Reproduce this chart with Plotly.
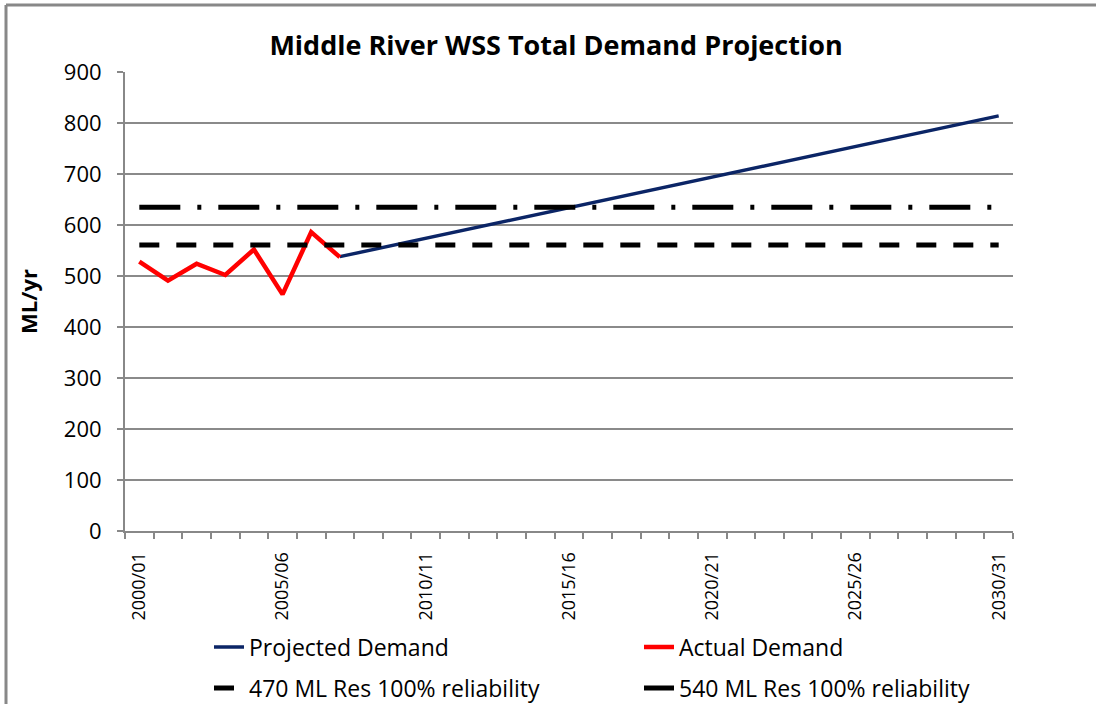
import plotly.graph_objects as go

years = [f"{y}/{str(y + 1)[-2:]}" for y in range(2000, 2031)]
tick_labels = ["2000/01", "2005/06", "2010/11", "2015/16", "2020/21", "2025/26", "2030/31"]

actual_years = years[0:8]
actual_demand = [528, 491, 524, 502, 552, 464, 586, 537]

projected_years = years[7:]
projected_demand = [538, 550, 562, 574, 586, 598, 610, 622, 634, 646, 658, 670,
                    682, 694, 706, 718, 730, 742, 754, 766, 778, 790, 802, 814]

res470_level = 561
res540_level = 635
res470 = [res470_level for _ in years]
res540 = [res540_level for _ in years]

FONT = "Open Sans"
fig = go.Figure()
fig.add_trace(go.Scatter(x=projected_years, y=projected_demand, mode="lines",
                         name="Projected Demand", legend="legend",
                         line=dict(color="#0b2566", width=3.5)))
fig.add_trace(go.Scatter(x=actual_years, y=actual_demand, mode="lines",
                         name="Actual Demand", legend="legend",
                         line=dict(color="#ff0000", width=4.5)))
fig.add_trace(go.Scatter(x=years, y=res470, mode="lines",
                         name="470 ML Res 100% reliability", legend="legend2",
                         line=dict(color="black", width=5, dash="20px,17px")))
fig.add_trace(go.Scatter(x=years, y=res540, mode="lines",
                         name="540 ML Res 100% reliability", legend="legend2",
                         line=dict(color="black", width=5, dash="41px,17px,4px,17px")))

L, R, T, B = 125, 83, 72, 173
W, H = 1096, 704
pw, ph = W - L - R, H - T - B

def px(x):
    return (x - L) / pw

def py(y):
    return (H - B - y) / ph

legend_common = dict(orientation="h", xanchor="left", yanchor="middle",
                     entrywidth=385, entrywidthmode="pixels",
                     font=dict(size=23, family=FONT), bgcolor="rgba(0,0,0,0)")

fig.update_layout(
    template="none",
    width=W, height=H,
    margin=dict(l=L, r=R, t=T, b=B, autoexpand=False),
    paper_bgcolor="white", plot_bgcolor="white",
    font=dict(family=FONT, color="black"),
    title=dict(text="<b>Middle River WSS Total Demand Projection</b>",
               x=556 / W, xanchor="center", y=1 - 46 / H, yanchor="middle",
               font=dict(size=27, family=FONT)),
    showlegend=True,
    legend=dict(x=px(209), y=py(647), **legend_common),
    legend2=dict(x=px(209), y=py(688), **legend_common),
    xaxis=dict(type="category", categoryorder="array", categoryarray=years,
               tickmode="array", tickvals=years,
               ticktext=[y if y in tick_labels else "" for y in years],
               tickson="boundaries", ticks="outside", ticklen=6, tickcolor="#888888",
               tickwidth=1.5, tickangle=-90, tickfont=dict(size=18, family=FONT),
               ticklabelstandoff=12,
               showline=True, linecolor="#888888", linewidth=2, showgrid=False,
               automargin=False, zeroline=False, range=[-0.5, 30.5]),
    yaxis=dict(range=[0, 900], dtick=100, tick0=0, ticks="outside", ticklen=6,
               tickcolor="#888888", tickwidth=1.5, showline=True, linecolor="#888888",
               linewidth=2, showgrid=True, gridcolor="#8a8a8a", gridwidth=1.5,
               tickfont=dict(size=22, family=FONT), zeroline=False, automargin=False,
               ticklabelstandoff=11,
               title=dict(text="<b>ML/yr</b>", font=dict(size=22, family=FONT), standoff=20)),
    shapes=[
        dict(type="line", xref="paper", yref="paper", x0=px(6), x1=px(1100),
             y0=py(5), y1=py(5), line=dict(color="#888888", width=3)),
        dict(type="line", xref="paper", yref="paper", x0=px(6), x1=px(6),
             y0=py(5), y1=py(710), line=dict(color="#888888", width=3)),
    ],
)

fig.write_html("out.html", config={"displayModeBar": False},
               post_script="document.body.style.margin='0px';")
